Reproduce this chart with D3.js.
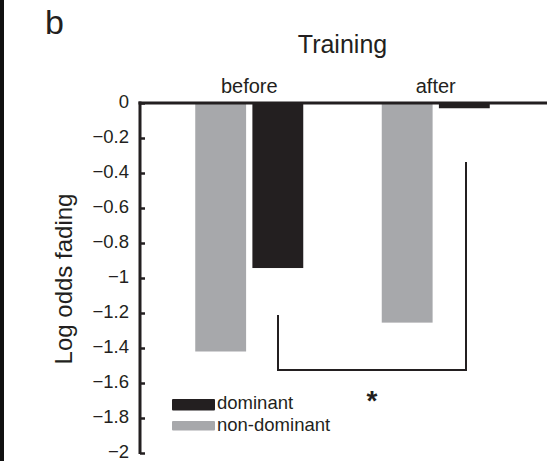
<!DOCTYPE html>
<html><head><meta charset="utf-8">
<script src="https://cdn.jsdelivr.net/npm/d3@7"></script>
<style>body{margin:0;background:#fff}svg{display:block;font-family:"Liberation Sans",Arial,sans-serif}</style>
</head><body>
<svg id="c" width="559" height="461"></svg>
<script>
const groups = ["before", "after"];
const series = ["non-dominant", "dominant"];
const nonDominant = [-1.42, -1.255];
const dominant = [-0.943, -0.03];
const yTicks = [0, -0.2, -0.4, -0.6, -0.8, -1, -1.2, -1.4, -1.6, -1.8, -2];
const yTickLabels = ["0", "\u22120.2", "\u22120.4", "\u22120.6", "\u22120.8", "\u22121", "\u22121.2", "\u22121.4", "\u22121.6", "\u22121.8", "\u22122"];
const colors = {"non-dominant": "#a7a8ab", "dominant": "#231f20"};

const svg = d3.select("#c");
svg.append("rect").attr("x",0).attr("y",0).attr("width",4).attr("height",461).attr("fill","#111");

const y = d3.scaleLinear().domain([-2, 0]).range([453, 103]);
const x = d3.scaleBand().domain(groups).range([156, 529]);
const xs = d3.scaleBand().domain(series).range([0, 108]).paddingInner(0.11);

const data = groups.map((g,i)=>({g, vals:[{s:"non-dominant",v:nonDominant[i]},{s:"dominant",v:dominant[i]}]}));

const gg = svg.selectAll("g.grp").data(data).enter().append("g")
  .attr("transform", d=>`translate(${x(d.g)+x.bandwidth()/2-54},0)`);
gg.selectAll("rect").data(d=>d.vals).enter().append("rect")
  .attr("x", d=>xs(d.s)).attr("width", xs.bandwidth())
  .attr("y", y(0)).attr("height", d=>y(d.v)-y(0))
  .attr("fill", d=>colors[d.s]);

// y axis
const ax = svg.append("g").attr("transform","translate(140,0)")
  .call(d3.axisRight(y).tickValues(yTicks).tickSize(5).tickFormat(""));
ax.select(".domain").remove();
ax.selectAll(".tick line").attr("stroke","#231f20").attr("stroke-width",2.5);
svg.append("line").attr("x1",140).attr("x2",140).attr("y1",y(0)-1.5).attr("y2",y(-2)+1)
  .attr("stroke","#231f20").attr("stroke-width",3);
svg.append("line").attr("x1",138.5).attr("x2",547).attr("y1",y(0)).attr("y2",y(0))
  .attr("stroke","#231f20").attr("stroke-width",3);
svg.selectAll("text.tl").data(yTicks).enter().append("text")
  .attr("x",129).attr("y",d=>y(d)+5).attr("text-anchor","end")
  .attr("font-size",18.5).attr("fill","#231f20").text((d,i)=>yTickLabels[i]);

// group labels
svg.selectAll("text.gl").data(groups).enter().append("text")
  .attr("x",d=>x(d)+x.bandwidth()/2).attr("y",92.5).attr("text-anchor","middle")
  .attr("font-size",20).attr("fill","#231f20").text(d=>d);
svg.append("text").attr("x",342.5).attr("y",53).attr("text-anchor","middle")
  .attr("font-size",25).attr("fill","#231f20").text("Training");
svg.append("text").attr("x",45).attr("y",34).attr("font-size",34).attr("fill","#231f20").text("b");
svg.append("text").attr("transform","translate(72,279) rotate(-90)").attr("text-anchor","middle")
  .attr("font-size",24).attr("fill","#231f20").text("Log odds fading");

// significance bracket
svg.append("path").attr("d",`M278,315 V370 H466 V162`).attr("fill","none")
  .attr("stroke","#231f20").attr("stroke-width",2);
svg.append("text").attr("x",372).attr("y",410).attr("text-anchor","middle")
  .attr("font-size",28).attr("font-weight","bold").attr("fill","#231f20").text("*");

// legend
const lg = svg.selectAll("g.lg").data(["dominant","non-dominant"]).enter().append("g")
  .attr("transform",(d,i)=>`translate(172,${399+i*22})`);
lg.append("rect").attr("width",43).attr("height",d=>d==="dominant"?11.5:9.5).attr("rx",1).attr("fill",d=>colors[d]);
lg.append("text").attr("x",45).attr("y",9.5).attr("font-size",18.5).attr("fill","#231f20").text(d=>d);
</script>
</body></html>
